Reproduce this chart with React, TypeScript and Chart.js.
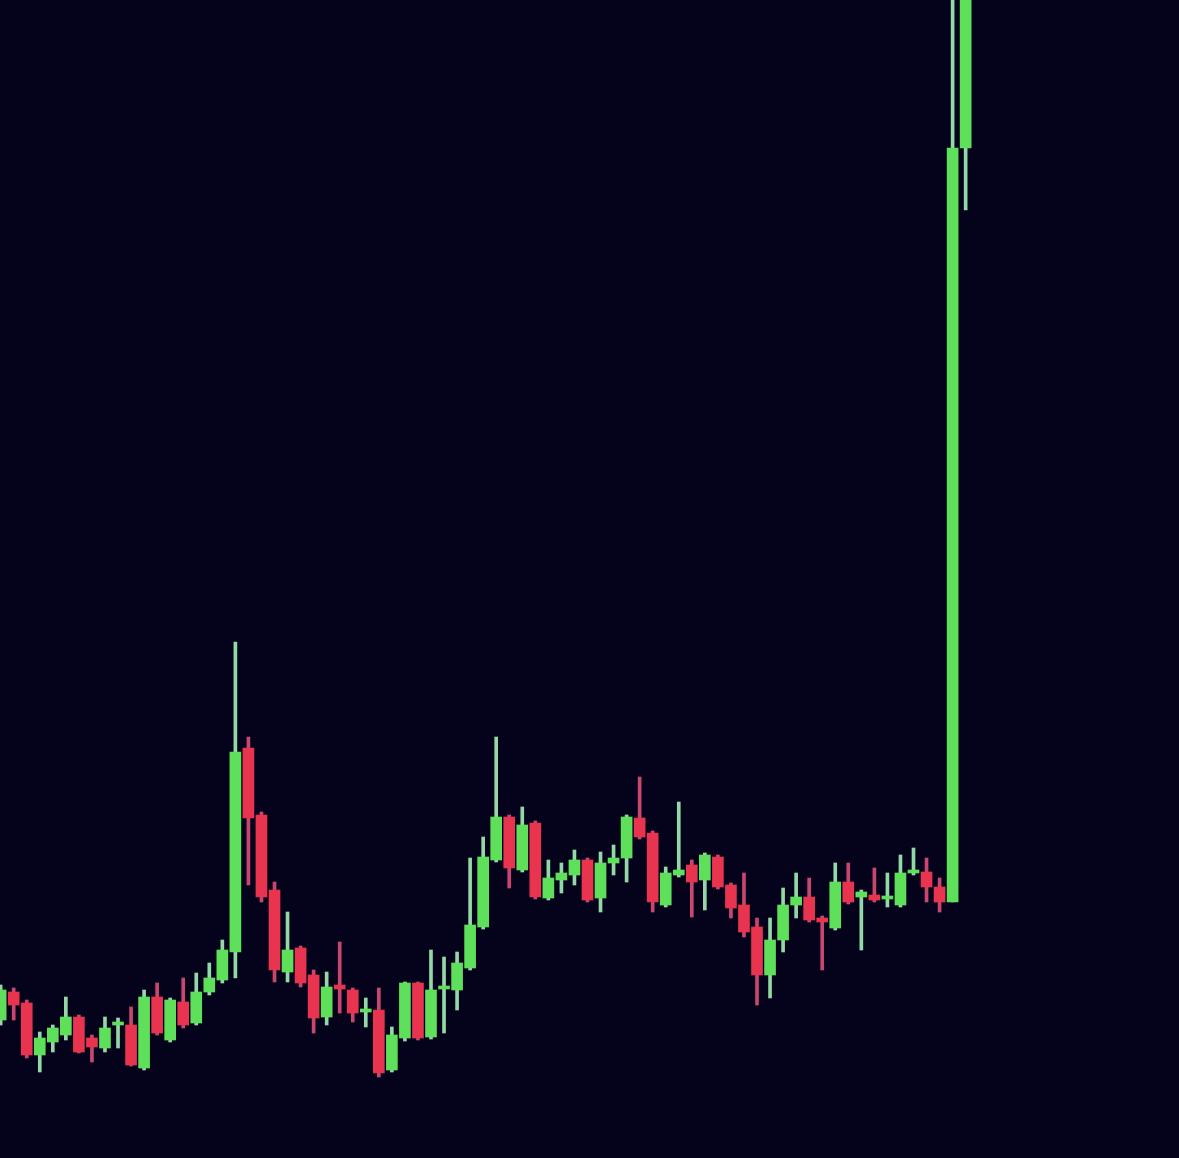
import React, { useEffect, useRef } from "react";
import { Chart, registerables } from "chart.js";

Chart.register(...registerables);

// OHLC values of each candle (arbitrary price units)
const opens = [
  138, 166, 155, 103, 116, 123, 141, 120, 110, 133, 133, 90, 161, 118, 156, 135, 166, 178, 206, 410,
  343, 268, 186, 210, 183, 141, 173, 168, 147, 148, 88, 120, 175, 121, 169, 168, 190, 231, 298, 341,
  288, 335, 260, 278, 283, 298, 260, 295, 300, 340, 325, 253, 283, 293, 278, 301, 273, 253, 231, 183,
  218, 253, 261, 240, 230, 276, 261, 263, 259, 253, 285, 286, 271, 256, 1010,
];
const highs = [
  173, 170, 158, 126, 133, 161, 143, 123, 141, 140, 151, 168, 175, 160, 180, 185, 195, 218, 516, 421,
  346, 276, 246, 212, 188, 186, 216, 170, 160, 170, 131, 176, 176, 208, 201, 206, 300, 321, 421, 343,
  351, 337, 298, 295, 308, 300, 306, 313, 343, 381, 327, 291, 356, 298, 305, 303, 275, 285, 240, 240,
  270, 285, 280, 242, 295, 295, 268, 290, 285, 303, 310, 300, 280, 1400, 1400,
];
const lows = [
  133, 138, 100, 86, 106, 118, 105, 96, 106, 110, 92, 88, 123, 116, 130, 133, 163, 175, 180, 273,
  256, 176, 176, 171, 125, 133, 145, 136, 131, 81, 86, 117, 118, 119, 125, 148, 188, 229, 296, 270,
  286, 259, 258, 265, 273, 256, 246, 283, 276, 319, 246, 251, 281, 241, 248, 269, 240, 221, 153, 160,
  206, 240, 236, 188, 228, 254, 208, 256, 251, 251, 283, 256, 246, 256, 948,
];
const closes = [
  168, 153, 103, 120, 130, 141, 106, 111, 130, 136, 93, 161, 125, 158, 133, 166, 180, 208, 406, 340,
  261, 188, 208, 175, 140, 171, 169, 145, 149, 85, 123, 175, 120, 168, 172, 195, 233, 301, 341, 290,
  333, 261, 280, 285, 298, 258, 295, 300, 341, 321, 256, 285, 288, 276, 303, 271, 250, 226, 183, 218,
  253, 261, 238, 236, 276, 256, 266, 258, 262, 285, 288, 271, 256, 1010, 1400,
];

const UP = "#5fe05b";
const DOWN = "#e8344f";
const UP_WICK = "#93d8a6";
const DOWN_WICK = "#c9466f";
const BG = "#05031c";

export default function App() {
  const ref = useRef<HTMLCanvasElement | null>(null);

  useEffect(() => {
    if (!ref.current) return;
    const idx = opens.map((_, i) => i);
    const isUp = idx.map((i) => closes[i] >= opens[i]);
    const bodies = idx.map((i) => {
      const lo = Math.min(opens[i], closes[i]);
      const hi = Math.max(opens[i], closes[i]);
      return { x: i, y: hi - lo < 3 ? [lo - 1, lo + 2] : [lo, hi] };
    });
    const wicks = idx.map((i) => ({ x: i, y: [lows[i], highs[i]] }));

    const chart = new Chart(ref.current, {
      type: "bar",
      data: {
        datasets: [
          {
            label: "body",
            data: bodies as any,
            backgroundColor: isUp.map((u) => (u ? UP : DOWN)),
            borderWidth: 0,
            barThickness: 11,
            grouped: false,
            order: 0,
          } as any,
          {
            label: "wick",
            data: wicks as any,
            backgroundColor: isUp.map((u) => (u ? UP_WICK : DOWN_WICK)),
            borderWidth: 0,
            barThickness: 3,
            grouped: false,
            order: 1,
          } as any,
        ],
      },
      options: {
        animation: false,
        responsive: true,
        maintainAspectRatio: false,
        layout: { padding: 0 },
        plugins: { legend: { display: false }, tooltip: { enabled: false } },
        scales: {
          x: { type: "linear", display: false, offset: false, bounds: "ticks", min: -0.05, max: 90.36 },
          y: { type: "linear", display: false, min: 0, max: 1158 },
        },
      },
    });
    return () => chart.destroy();
  }, []);

  return (
    <div
      style={{
        position: "fixed",
        left: 0,
        top: 0,
        width: "100vw",
        height: "100vh",
        background: BG,
      }}
    >
      <canvas ref={ref} />
    </div>
  );
}
